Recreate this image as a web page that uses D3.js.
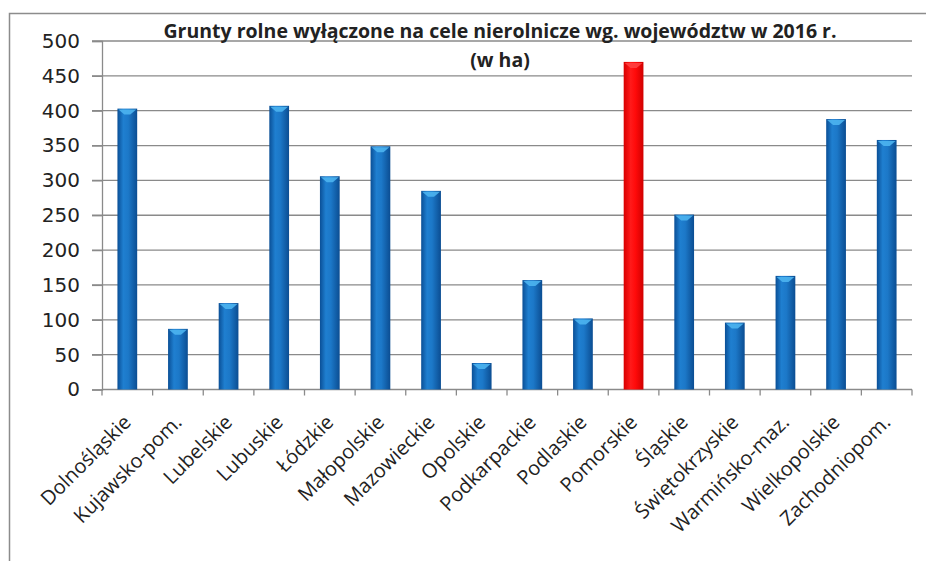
<!DOCTYPE html>
<html>
<head>
<meta charset="utf-8">
<script src="https://cdn.jsdelivr.net/npm/d3@7"></script>
<style>
  body { margin: 0; background: #fff; }
</style>
</head>
<body>
<div id="chart"></div>
<script>
// data
const regions = ["Dolnośląskie", "Kujawsko-pom.", "Lubelskie", "Lubuskie", "Łódzkie",
  "Małopolskie", "Mazowieckie", "Opolskie", "Podkarpackie", "Podlaskie", "Pomorskie",
  "Śląskie", "Świętokrzyskie", "Warmińsko-maz.", "Wielkopolskie", "Zachodniopom."];
const hectares = [403, 87, 124, 407, 306, 349, 285, 38, 157, 102, 470, 251, 96, 163, 388, 358];
const highlighted = ["Pomorskie"];
const yTicks = [0, 50, 100, 150, 200, 250, 300, 350, 400, 450, 500];
const titleLines = ["Grunty rolne wyłączone na cele nierolnicze wg. województw w 2016 r.", "(w ha)"];

let w = 926;
let h = 561;
let plotLeft = 102, plotRight = 912, plotTop = 41, plotBottom = 389.5;

let svg = d3.select("#chart")
  .append("svg")
    .attr("width", w)
    .attr("height", h);

// cylinder-ish gradients
let defs = svg.append("defs");
function grad(id, stops){
  let g = defs.append("linearGradient").attr("id", id)
    .attr("x1", "0").attr("x2", "1").attr("y1", "0").attr("y2", "0");
  stops.forEach(s => g.append("stop").attr("offset", s[0]).attr("stop-color", s[1]));
}
grad("blueBar", [[0, "#0a4f96"], [0.3, "#1f7fd0"], [0.55, "#1c78c8"], [1, "#0b4d92"]]);
grad("redBar", [[0, "#d80000"], [0.35, "#ff1a1a"], [0.6, "#ff0a0a"], [1, "#d00000"]]);

// frame
svg.append("path")
  .attr("d", "M9.5," + h + "V13.5H" + w)
  .attr("fill", "none")
  .attr("stroke", "#8c8c8c")
  .attr("stroke-width", 1.5);

// scales
let xScale = d3.scaleBand()
  .domain(regions)
  .range([plotLeft, plotRight]);
let yScale = d3.scaleLinear()
  .domain([0, 500])
  .range([plotBottom, plotTop]);

// grid
svg.append("g")
  .selectAll("line")
  .data(yTicks.slice(1))
  .join("line")
    .attr("x1", plotLeft - 10).attr("x2", plotRight)
    .attr("y1", d => yScale(d)).attr("y2", d => yScale(d))
    .attr("stroke", "#8a8a8a")
    .attr("stroke-width", 1.3);

// y axis
let yAxis = d3.axisLeft(yScale)
  .tickValues(yTicks)
  .tickSize(10)
  .tickPadding(12);
let gy = svg.append("g")
  .attr("transform", "translate(" + plotLeft + ",0)")
  .call(yAxis);
gy.select(".domain").attr("stroke", "#8a8a8a").attr("stroke-width", 1.3);
gy.selectAll(".tick line").attr("stroke", "#8a8a8a").attr("stroke-width", 1.3);
gy.selectAll("text")
  .attr("font-family", "'DejaVu Sans', Verdana, sans-serif")
  .attr("font-size", "20px")
  .attr("fill", "#222");

// x axis
let gx = svg.append("g")
  .attr("transform", "translate(0," + plotBottom + ")");
gx.append("line")
  .attr("x1", plotLeft).attr("x2", plotRight)
  .attr("stroke", "#8a8a8a").attr("stroke-width", 1.3);
gx.selectAll(".tk")
  .data(d3.range(regions.length + 1))
  .join("line")
    .attr("class", "tk")
    .attr("x1", i => plotLeft + i * xScale.step())
    .attr("x2", i => plotLeft + i * xScale.step())
    .attr("y1", 0).attr("y2", 6)
    .attr("stroke", "#8a8a8a").attr("stroke-width", 1.3);
gx.selectAll("text")
  .data(regions)
  .join("text")
    .attr("text-anchor", "end")
    .attr("transform", d => "translate(" + (xScale(d) + xScale.bandwidth() / 2 + 5) + ",34) rotate(-45)")
    .attr("font-family", "'Open Sans', sans-serif")
    .attr("font-size", "20px")
    .attr("fill", "#222")
    .text(d => d);

// bars
let barW = xScale.bandwidth() * 0.39;
let bars = svg.append("g")
  .selectAll("g")
  .data(regions.map((r, i) => ({ region: r, value: hectares[i] })))
  .join("g");
bars.append("rect")
  .attr("x", d => xScale(d.region) + xScale.bandwidth() / 2 - barW / 2)
  .attr("y", d => yScale(d.value))
  .attr("width", barW)
  .attr("height", d => plotBottom - yScale(d.value))
  .attr("fill", d => highlighted.includes(d.region) ? "url(#redBar)" : "url(#blueBar)");
// top cap
bars.append("path")
  .attr("d", d => {
    let cx = xScale(d.region) + xScale.bandwidth() / 2;
    let y = yScale(d.value);
    return "M" + (cx - barW / 2 + 1) + "," + (y + 1) + "H" + (cx + barW / 2 - 1) +
      "L" + (cx + 3) + "," + (y + 6) + "H" + (cx - 3) + "Z";
  })
  .attr("fill", d => highlighted.includes(d.region) ? "#ff4040" : "#4cb4f0")
  .attr("opacity", 0.9);

// title
svg.append("g")
  .selectAll("text")
  .data(titleLines)
  .join("text")
    .attr("x", 500)
    .attr("y", (d, i) => i === 0 ? 38 : 67)
    .attr("text-anchor", "middle")
    .attr("font-family", "'Open Sans', sans-serif")
    .attr("font-weight", "bold")
    .attr("font-size", "19.5px")
    .attr("fill", "#222")
    .text(d => d);
</script>
</body>
</html>
